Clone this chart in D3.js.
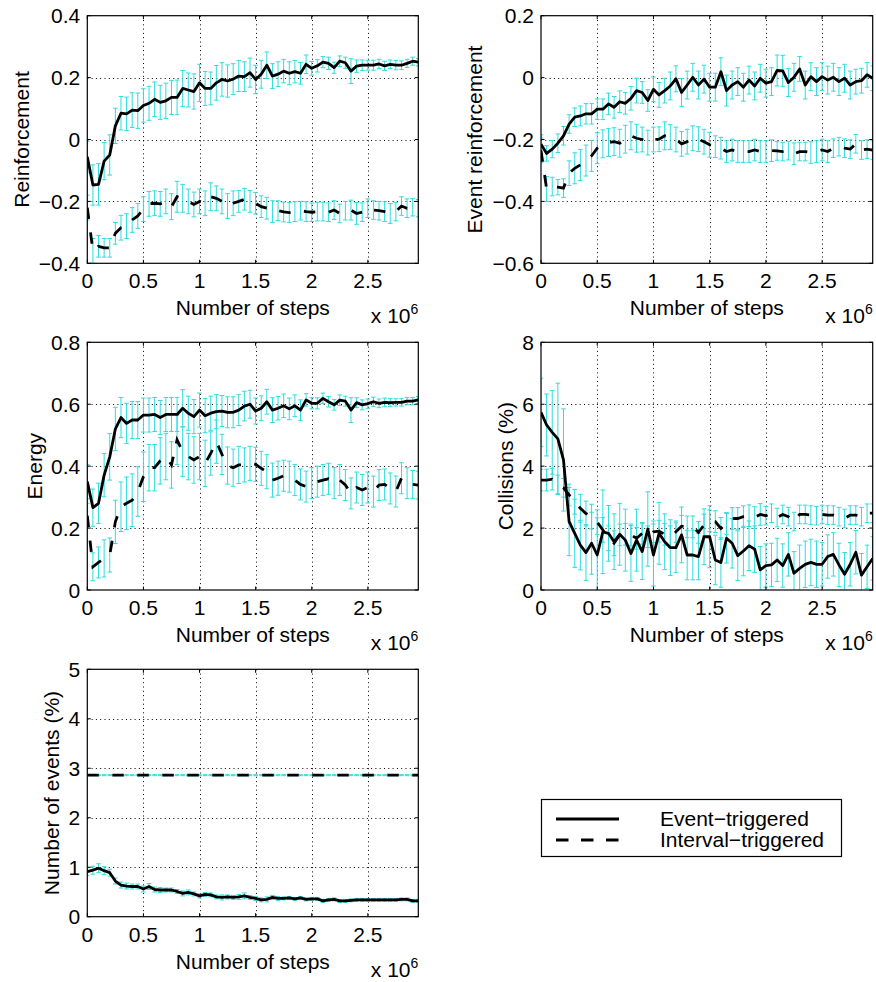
<!DOCTYPE html>
<html><head><meta charset="utf-8">
<script src="https://cdn.jsdelivr.net/npm/d3@7"></script>
<style>body{margin:0;background:#fff} text{font-family:"Liberation Sans",Arial,Helvetica,sans-serif;fill:#000}</style>
</head><body><svg id="c" width="876" height="982"></svg>
<script>
// x values in units of 1e6 steps
const steps = [0,0.05,0.1,0.15,0.2,0.25,0.3,0.35,0.4,0.45,0.5,0.55,0.6,0.65,0.7,0.75,0.8,0.85,0.9,0.95,
 1,1.05,1.1,1.15,1.2,1.25,1.3,1.35,1.4,1.45,1.5,1.55,1.6,1.65,1.7,1.75,1.8,1.85,1.9,1.95,
 2,2.05,2.1,2.15,2.2,2.25,2.3,2.35,2.4,2.45,2.5,2.55,2.6,2.65,2.7,2.75,2.8,2.85,2.9,2.95];
const xTicks = [0,0.5,1,1.5,2,2.5];
const xTickLabels = ["0","0.5","1","1.5","2","2.5"];
const seriesNames = ["Event\u2212triggered","Interval\u2212triggered"];

// Panel 1: Reinforcement
const reinfEvent = [-0.056,-0.147,-0.145,-0.07,-0.05,0.044,0.085,0.083,0.095,0.093,
 0.11,0.117,0.13,0.12,0.125,0.136,0.136,0.165,0.16,0.155,
 0.183,0.165,0.165,0.183,0.194,0.189,0.195,0.205,0.203,0.216,
 0.194,0.211,0.24,0.205,0.211,0.221,0.214,0.219,0.214,0.243,
 0.23,0.238,0.25,0.246,0.232,0.253,0.248,0.221,0.237,0.24,
 0.24,0.24,0.244,0.238,0.243,0.24,0.24,0.246,0.253,0.25];
const reinfEventErr = [0.05,0.065,0.067,0.06,0.065,0.057,0.054,0.054,0.056,0.057,
 0.054,0.055,0.056,0.055,0.057,0.055,0.056,0.058,0.055,0.057,
 0.06,0.055,0.053,0.056,0.054,0.052,0.05,0.05,0.048,0.047,
 0.046,0.045,0.043,0.04,0.04,0.038,0.037,0.036,0.035,0.03,
 0.022,0.02,0.018,0.02,0.018,0.017,0.018,0.04,0.02,0.017,
 0.016,0.016,0.015,0.015,0.014,0.015,0.014,0.013,0.013,0.012];
const reinfInterval = [-0.22,-0.36,-0.345,-0.35,-0.35,-0.303,-0.285,-0.28,-0.26,-0.247,
 -0.225,-0.208,-0.206,-0.208,-0.2,-0.217,-0.185,-0.19,-0.2,-0.21,
 -0.2,-0.206,-0.185,-0.19,-0.2,-0.215,-0.206,-0.2,-0.193,-0.2,
 -0.206,-0.217,-0.222,-0.233,-0.23,-0.234,-0.236,-0.233,-0.23,-0.233,
 -0.235,-0.233,-0.233,-0.235,-0.228,-0.239,-0.23,-0.228,-0.239,-0.235,
 -0.222,-0.228,-0.23,-0.233,-0.239,-0.233,-0.215,-0.222,-0.219,-0.222];
const reinfIntervalErr = [0.04,0.04,0.035,0.03,0.03,0.035,0.04,0.04,0.04,0.04,
 0.04,0.04,0.04,0.04,0.04,0.042,0.05,0.045,0.04,0.04,
 0.04,0.04,0.045,0.04,0.04,0.04,0.04,0.035,0.035,0.035,
 0.035,0.035,0.035,0.035,0.032,0.032,0.032,0.032,0.03,0.032,
 0.03,0.03,0.03,0.03,0.03,0.03,0.03,0.032,0.035,0.03,
 0.03,0.03,0.03,0.032,0.032,0.03,0.03,0.03,0.028,0.028];

// Panel 2: Event reinforcement
const evReinfEvent = [-0.215,-0.245,-0.231,-0.212,-0.188,-0.15,-0.128,-0.124,-0.117,-0.117,
 -0.102,-0.102,-0.085,-0.096,-0.078,-0.083,-0.067,-0.042,-0.048,-0.074,
 -0.038,-0.056,-0.042,-0.027,-0.004,-0.048,-0.024,0.001,-0.024,-0.005,
 -0.031,-0.031,0.019,-0.042,-0.024,-0.013,-0.031,-0.008,-0.027,-0.002,
 -0.018,-0.013,0.023,0.022,-0.016,0.001,0.028,-0.024,0.003,-0.013,
 0.003,-0.008,0.001,-0.013,-0.002,-0.024,-0.013,-0.01,0.009,-0.002];
const evReinfEventErr = [0.03,0.025,0.028,0.03,0.03,0.03,0.03,0.032,0.033,0.033,
 0.033,0.033,0.035,0.035,0.035,0.035,0.038,0.04,0.035,0.035,
 0.04,0.04,0.04,0.045,0.042,0.045,0.045,0.045,0.045,0.045,
 0.045,0.045,0.045,0.05,0.045,0.045,0.045,0.045,0.045,0.045,
 0.045,0.045,0.05,0.05,0.045,0.045,0.04,0.045,0.045,0.045,
 0.045,0.045,0.045,0.045,0.045,0.045,0.04,0.04,0.04,0.04];
const evReinfInterval = [-0.235,-0.36,-0.352,-0.354,-0.357,-0.309,-0.293,-0.282,-0.268,-0.253,
 -0.228,-0.214,-0.21,-0.207,-0.212,-0.199,-0.188,-0.196,-0.2,-0.21,
 -0.2,-0.199,-0.188,-0.192,-0.2,-0.214,-0.207,-0.196,-0.199,-0.207,
 -0.217,-0.223,-0.228,-0.239,-0.234,-0.239,-0.239,-0.239,-0.234,-0.239,
 -0.239,-0.236,-0.237,-0.239,-0.236,-0.246,-0.239,-0.239,-0.242,-0.239,
 -0.234,-0.239,-0.228,-0.223,-0.228,-0.231,-0.214,-0.234,-0.231,-0.234];
const evReinfIntervalErr = [0.04,0.04,0.03,0.025,0.03,0.04,0.05,0.05,0.05,0.05,
 0.05,0.045,0.045,0.045,0.045,0.045,0.045,0.045,0.04,0.04,
 0.04,0.04,0.045,0.04,0.04,0.04,0.04,0.04,0.04,0.04,
 0.04,0.035,0.035,0.035,0.035,0.035,0.035,0.035,0.035,0.035,
 0.035,0.035,0.03,0.03,0.03,0.035,0.03,0.03,0.035,0.035,
 0.035,0.035,0.03,0.03,0.03,0.03,0.03,0.03,0.03,0.03];

// Panel 3: Energy
const energyEvent = [0.35,0.266,0.28,0.371,0.43,0.52,0.557,0.538,0.549,0.549,
 0.565,0.565,0.567,0.557,0.567,0.567,0.567,0.587,0.571,0.56,
 0.581,0.563,0.571,0.576,0.578,0.574,0.574,0.581,0.594,0.6,
 0.578,0.587,0.608,0.581,0.587,0.595,0.585,0.595,0.581,0.614,
 0.603,0.603,0.619,0.608,0.598,0.613,0.61,0.581,0.605,0.598,
 0.602,0.608,0.603,0.606,0.605,0.606,0.606,0.61,0.61,0.614];
const energyEventErr = [0.055,0.06,0.065,0.07,0.075,0.07,0.065,0.065,0.06,0.06,
 0.055,0.055,0.055,0.055,0.055,0.055,0.055,0.06,0.055,0.055,
 0.055,0.055,0.055,0.055,0.05,0.05,0.05,0.05,0.048,0.045,
 0.042,0.04,0.04,0.04,0.038,0.038,0.035,0.035,0.033,0.02,
 0.018,0.018,0.017,0.017,0.017,0.017,0.016,0.04,0.016,0.016,
 0.015,0.015,0.014,0.014,0.013,0.012,0.012,0.012,0.012,0.011];
const energyInterval = [0.24,0.075,0.089,0.102,0.113,0.22,0.269,0.28,0.29,0.318,
 0.366,0.395,0.395,0.417,0.431,0.404,0.485,0.447,0.431,0.42,
 0.431,0.409,0.441,0.479,0.438,0.402,0.395,0.404,0.404,0.409,
 0.406,0.393,0.382,0.355,0.361,0.369,0.366,0.355,0.341,0.334,
 0.345,0.35,0.355,0.359,0.345,0.355,0.339,0.312,0.331,0.323,
 0.331,0.318,0.339,0.341,0.328,0.318,0.361,0.345,0.341,0.339];
const energyIntervalErr = [0.04,0.045,0.05,0.06,0.055,0.07,0.08,0.085,0.085,0.08,
 0.08,0.075,0.075,0.075,0.075,0.075,0.08,0.08,0.075,0.075,
 0.075,0.075,0.07,0.07,0.065,0.06,0.06,0.06,0.055,0.055,
 0.055,0.055,0.055,0.055,0.055,0.05,0.05,0.05,0.05,0.05,
 0.05,0.05,0.05,0.05,0.05,0.05,0.05,0.05,0.05,0.05,
 0.05,0.05,0.05,0.05,0.05,0.05,0.05,0.05,0.045,0.045];

// Panel 4: Collisions (%)
const collEvent = [5.74,5.33,5.09,4.88,4.2,2.21,1.83,1.45,1.21,1.51,
 1.13,1.88,1.83,1.56,1.8,1.61,1.18,1.61,1.24,1.97,
 1.13,1.83,1.56,1.37,1.37,1.78,1.13,1.13,1.08,1.72,
 1.72,0.97,0.89,1.67,1.51,1.11,1.26,1.43,1.32,0.65,
 0.79,0.81,0.97,0.79,1.15,0.54,0.7,0.83,0.89,0.83,
 0.83,1.08,1.15,0.81,0.51,0.83,1.22,0.48,0.75,1.02];
const collEventErr = [1.1,1.0,1.35,1.8,1.65,1.1,1.1,0.8,0.9,1.0,
 1.2,1.35,0.9,0.9,1.0,1.0,0.9,1.0,0.9,1.2,
 1.0,1.0,0.9,0.9,0.8,0.9,0.8,0.8,0.75,0.9,
 1.0,0.8,0.8,0.8,0.8,0.8,0.8,0.8,0.75,0.75,
 0.7,0.7,0.7,0.7,0.7,0.7,0.75,0.75,0.75,0.75,
 0.7,0.7,0.7,0.7,0.7,0.7,0.7,0.7,0.7,0.7];
const collInterval = [3.55,3.55,3.58,3.41,3.3,3.07,2.85,2.64,2.47,2.37,
 2.19,1.94,1.67,1.51,1.78,1.8,1.78,1.67,1.83,1.72,
 1.88,1.9,1.8,1.72,1.88,2.06,2.04,2.04,1.86,2.1,
 2.23,2.21,1.99,2.15,2.31,2.31,2.37,2.4,2.34,2.44,
 2.4,2.48,2.34,2.44,2.37,2.21,2.44,2.44,2.42,2.4,
 2.44,2.42,2.42,2.37,2.31,2.42,2.42,2.37,2.48,2.48];
const collIntervalErr = [0.35,0.35,0.35,0.3,0.3,0.35,0.4,0.45,0.4,0.4,
 0.4,0.4,0.4,0.4,0.35,0.35,0.35,0.35,0.35,0.35,
 0.35,0.35,0.35,0.35,0.35,0.35,0.35,0.35,0.35,0.35,
 0.35,0.35,0.35,0.35,0.35,0.35,0.35,0.35,0.35,0.35,
 0.3,0.3,0.3,0.3,0.3,0.3,0.3,0.3,0.3,0.3,
 0.3,0.3,0.3,0.3,0.3,0.3,0.3,0.3,0.3,0.3];

// Panel 5: Number of events (%)
const eventsEvent = [0.91,0.94,0.98,0.93,0.89,0.72,0.64,0.62,0.61,0.61,
 0.56,0.61,0.55,0.54,0.54,0.54,0.51,0.47,0.49,0.46,
 0.42,0.45,0.44,0.4,0.39,0.4,0.39,0.4,0.42,0.39,
 0.37,0.34,0.35,0.39,0.37,0.37,0.38,0.36,0.38,0.35,
 0.36,0.36,0.32,0.34,0.35,0.32,0.32,0.33,0.34,0.34,
 0.34,0.34,0.34,0.34,0.34,0.34,0.35,0.35,0.32,0.32];
const eventsEventErr = [0.08,0.08,0.09,0.08,0.07,0.06,0.06,0.06,0.05,0.05,
 0.06,0.06,0.05,0.05,0.04,0.04,0.04,0.05,0.05,0.04,
 0.04,0.04,0.04,0.04,0.05,0.04,0.04,0.05,0.06,0.04,
 0.04,0.04,0.05,0.04,0.04,0.03,0.03,0.03,0.03,0.03,
 0.03,0.03,0.03,0.03,0.03,0.03,0.03,0.03,0.03,0.03,
 0.03,0.03,0.03,0.03,0.03,0.03,0.03,0.03,0.03,0.03];
const eventsInterval = [2.86,2.86,2.86,2.86,2.86,2.86,2.86,2.86,2.86,2.86,
 2.86,2.86,2.86,2.86,2.86,2.86,2.86,2.86,2.86,2.86,
 2.86,2.86,2.86,2.86,2.86,2.86,2.86,2.86,2.86,2.86,
 2.86,2.86,2.86,2.86,2.86,2.86,2.86,2.86,2.86,2.86,
 2.86,2.86,2.86,2.86,2.86,2.86,2.86,2.86,2.86,2.86,
 2.86,2.86,2.86,2.86,2.86,2.86,2.86,2.86,2.86,2.86];
const eventsIntervalErr = [0.01,0.01,0.01,0.01,0.01,0.01,0.01,0.01,0.01,0.01,
 0.01,0.01,0.01,0.01,0.01,0.01,0.01,0.01,0.01,0.01,
 0.01,0.01,0.01,0.01,0.01,0.01,0.01,0.01,0.01,0.01,
 0.01,0.01,0.01,0.01,0.01,0.01,0.01,0.01,0.01,0.01,
 0.01,0.01,0.01,0.01,0.01,0.01,0.01,0.01,0.01,0.01,
 0.01,0.01,0.01,0.01,0.01,0.01,0.01,0.01,0.01,0.01];

const yLabels = ["Reinforcement","Event reinforcement","Energy","Collisions (%)","Number of events (%)"];
const yTicks1 = [-0.4,-0.2,0,0.2,0.4];
const yTicks2 = [-0.6,-0.4,-0.2,0,0.2];
const yTicks3 = [0,0.2,0.4,0.6,0.8];
const yTicks4 = [0,2,4,6,8];
const yTicks5 = [0,1,2,3,4,5];

// ---- layout ----
const FS = 21;
const CYAN = "#2fdcdc";
const panels = [
  {x0:87.3,x1:418.3,y0:15.7,y1:263.3,ylab:21.5,yDom:[-0.4,0.4],yt:yTicks1,label:yLabels[0],ev:reinfEvent,evE:reinfEventErr,iv:reinfInterval,ivE:reinfIntervalErr},
  {x0:541,x1:872.7,y0:15.7,y1:263.3,ylab:475,yDom:[-0.6,0.2],yt:yTicks2,label:yLabels[1],ev:evReinfEvent,evE:evReinfEventErr,iv:evReinfInterval,ivE:evReinfIntervalErr},
  {x0:87.3,x1:418.3,y0:342.3,y1:590,ylab:35,yDom:[0,0.8],yt:yTicks3,label:yLabels[2],ev:energyEvent,evE:energyEventErr,iv:energyInterval,ivE:energyIntervalErr},
  {x0:541,x1:872.7,y0:342.3,y1:590,ylab:506,yDom:[0,8],yt:yTicks4,label:yLabels[3],ev:collEvent,evE:collEventErr,iv:collInterval,ivE:collIntervalErr},
  {x0:87.3,x1:418.3,y0:669.3,y1:916.7,ylab:52,yDom:[0,5],yt:yTicks5,label:yLabels[4],ev:eventsEvent,evE:eventsEventErr,iv:eventsInterval,ivE:eventsIntervalErr}
];
const fmtTick = v => (v<0 ? "\u2212" : "") + String(+Math.abs(v).toFixed(2));

const svg = d3.select("#c");
panels.forEach((p,pi) => {
  const x = d3.scaleLinear().domain([0,2.95]).range([p.x0,p.x1]);
  const y = d3.scaleLinear().domain(p.yDom).range([p.y1,p.y0]);
  const g = svg.append("g");
  const cid = "clip"+pi;
  g.append("clipPath").attr("id",cid).append("rect")
    .attr("x",p.x0).attr("y",p.y0).attr("width",p.x1-p.x0).attr("height",p.y1-p.y0);

  // grid
  const grid = g.append("g").attr("stroke","#000").attr("stroke-width",1).attr("stroke-dasharray","1,3.3");
  xTicks.filter(t=>t>0).forEach(t=>{
    grid.append("line").attr("x1",Math.round(x(t))+0.5).attr("x2",Math.round(x(t))+0.5).attr("y1",p.y0).attr("y2",p.y1);
  });
  p.yt.filter(t=>t>p.yDom[0] && t<p.yDom[1]).forEach(t=>{
    grid.append("line").attr("y1",Math.round(y(t))+0.5).attr("y2",Math.round(y(t))+0.5).attr("x1",p.x0).attr("x2",p.x1);
  });

  const data = g.append("g").attr("clip-path",`url(#${cid})`);
  const cap = 2.3;
  [[p.ev,p.evE],[p.iv,p.ivE]].forEach(([vals,errs]) => {
    const eb = data.append("g").attr("stroke",CYAN).attr("stroke-width",1).attr("fill","none");
    steps.forEach((s,i) => {
      const xx = x(s), ya = y(vals[i]-errs[i]), yb = y(vals[i]+errs[i]);
      eb.append("path").attr("d",`M${xx},${ya}V${yb}M${xx-cap},${ya}H${xx+cap}M${xx-cap},${yb}H${xx+cap}`);
    });
  });
  const line = d3.line().x((d,i)=>x(steps[i])).y(d=>y(d));
  data.append("path").datum(p.ev).attr("d",line).attr("fill","none").attr("stroke","#000").attr("stroke-width",2.8).attr("stroke-linejoin","round");
  data.append("path").datum(p.iv).attr("d",line).attr("fill","none").attr("stroke","#000").attr("stroke-width",2.8).attr("stroke-dasharray","11.5,13.5");

  // box
  g.append("rect").attr("x",p.x0).attr("y",p.y0).attr("width",p.x1-p.x0).attr("height",p.y1-p.y0)
    .attr("fill","none").attr("stroke","#000").attr("stroke-width",1.2);
  // ticks inward on all four sides
  const tk = g.append("g").attr("stroke","#000").attr("stroke-width",1);
  const TL = 3.5;
  xTicks.forEach(t=>{
    const xx = x(t);
    tk.append("line").attr("x1",xx).attr("x2",xx).attr("y1",p.y1).attr("y2",p.y1-TL);
    tk.append("line").attr("x1",xx).attr("x2",xx).attr("y1",p.y0).attr("y2",p.y0+TL);
  });
  p.yt.forEach(t=>{
    const yy = y(t);
    tk.append("line").attr("y1",yy).attr("y2",yy).attr("x1",p.x0).attr("x2",p.x0+TL);
    tk.append("line").attr("y1",yy).attr("y2",yy).attr("x1",p.x1).attr("x2",p.x1-TL);
  });
  // tick labels
  xTicks.forEach((t,i)=>{
    g.append("text").attr("x",x(t)).attr("y",p.y1+25).attr("text-anchor","middle")
      .attr("font-size",FS).text(xTickLabels[i]);
  });
  p.yt.forEach(t=>{
    g.append("text").attr("x",p.x0-7).attr("y",y(t)+7.5).attr("text-anchor","end")
      .attr("font-size",FS).text(fmtTick(t));
  });
  // x label
  g.append("text").attr("x",(p.x0+p.x1)/2).attr("y",p.y1+52).attr("text-anchor","middle")
    .attr("font-size",FS).text("Number of steps");
  // exponent
  const ex = g.append("text").attr("x",p.x1).attr("y",p.y1+60).attr("text-anchor","end").attr("font-size",FS);
  ex.append("tspan").text("x 10");
  ex.append("tspan").attr("font-size",14).attr("dy",-9).text("6");
  // y label
  g.append("text").attr("transform",`translate(${p.ylab},${(p.y0+p.y1)/2}) rotate(-90)`)
    .attr("text-anchor","middle").attr("dy",7).attr("font-size",FS).text(p.label);
});

// legend
const lg = svg.append("g");
lg.append("rect").attr("x",541.5).attr("y",799.5).attr("width",300).attr("height",57)
  .attr("fill","#fff").attr("stroke","#000").attr("stroke-width",1.2);
lg.append("line").attr("x1",556).attr("x2",619).attr("y1",819).attr("y2",819).attr("stroke","#000").attr("stroke-width",2.8);
lg.append("line").attr("x1",556).attr("x2",619).attr("y1",840).attr("y2",840).attr("stroke","#000").attr("stroke-width",2.8).attr("stroke-dasharray","12.5,12.5");
lg.append("text").attr("x",660).attr("y",826).attr("font-size",FS).text(seriesNames[0]);
lg.append("text").attr("x",660).attr("y",847).attr("font-size",FS).text(seriesNames[1]);
</script></body></html>
